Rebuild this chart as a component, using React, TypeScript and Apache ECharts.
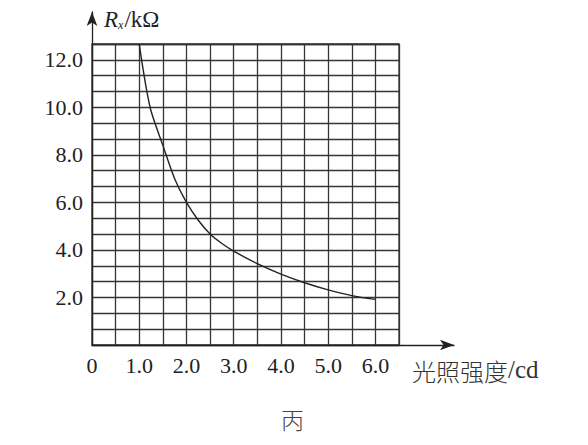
import React, { useEffect, useRef } from "react";
import * as echarts from "echarts";

const intensity = [1.0, 1.05, 1.15, 1.25, 1.5, 1.75, 2.0, 2.25, 2.5, 2.75, 3.0, 3.5, 4.0, 4.5, 5.0, 5.5, 6.0];
const resistance = [12.67, 12.0, 10.8, 9.85, 8.4, 7.0, 6.0, 5.25, 4.67, 4.27, 3.95, 3.42, 2.98, 2.62, 2.32, 2.08, 1.92];

const xMax = 6.5;
const xStep = 0.5;
const yMax = 38 / 3;
const yStep = 2 / 3;
const yLabelStep = 2;

const caption = "丙";

const SERIF = "'Liberation Serif', 'DejaVu Serif', serif";
const CJK = "'Noto Sans CJK SC', sans-serif";

export default function App() {
  const ref = useRef<HTMLDivElement>(null);
  useEffect(() => {
    if (!ref.current) return;
    const chart = echarts.init(ref.current, undefined, { renderer: "svg" });
    const lineColor = "#353535";
    chart.setOption({
      animation: false,
      backgroundColor: "#ffffff",
      grid: [
        { left: 92, top: 44, width: 307, height: 301, show: true, borderColor: lineColor, borderWidth: 1.3, backgroundColor: "transparent" },
        { left: 92, top: 12, width: 362, height: 333 },
      ],
      xAxis: [
        {
          type: "value", gridIndex: 0, min: 0, max: xMax, interval: xStep,
          axisLine: { show: false }, axisTick: { show: false },
          splitLine: { show: true, lineStyle: { color: lineColor, width: 1.3 } },
          axisLabel: {
            margin: 9, color: "#222", fontFamily: SERIF, fontSize: 22,
            formatter: (v: number) => (v === 0 ? "0" : Number.isInteger(v) && v <= 6 ? v.toFixed(1) : ""),
          },
        },
        {
          type: "value", gridIndex: 1, min: 0, max: 1,
          axisLine: { show: true, symbol: ["none", "arrow"], symbolSize: [8, 14], lineStyle: { color: "#222", width: 1.3 } },
          axisTick: { show: false }, axisLabel: { show: false }, splitLine: { show: false },
        },
      ],
      yAxis: [
        {
          type: "value", gridIndex: 0, min: 0, max: yMax, interval: yStep,
          axisLine: { show: false }, axisTick: { show: false },
          splitLine: { show: true, lineStyle: { color: lineColor, width: 1.3 } },
          axisLabel: {
            margin: 9, color: "#222", fontFamily: SERIF, fontSize: 22,
            formatter: (v: number) => {
              const k = v / yLabelStep;
              return v > 0.01 && Math.abs(k - Math.round(k)) < 1e-6 ? v.toFixed(1) : "";
            },
          },
        },
        {
          type: "value", gridIndex: 1, min: 0, max: 1,
          axisLine: { show: true, symbol: ["none", "arrow"], symbolSize: [8, 14], lineStyle: { color: "#222", width: 1.3 } },
          axisTick: { show: false }, axisLabel: { show: false }, splitLine: { show: false },
        },
      ],
      series: [
        {
          type: "line", xAxisIndex: 0, yAxisIndex: 0,
          data: intensity.map((x, i) => [x, resistance[i]]),
          showSymbol: false, smooth: 0.3, clip: false,
          lineStyle: { color: "#222", width: 1.4 },
        },
      ],
      graphic: [
        {
          type: "text", left: 104, top: 8,
          style: {
            text: "{r|R}{s|x}{n|/kΩ}",
            rich: {
              r: { fontFamily: SERIF, fontStyle: "italic", fontSize: 23, fill: "#222", verticalAlign: "bottom", lineHeight: 26 },
              s: { fontFamily: SERIF, fontStyle: "italic", fontSize: 12, fill: "#222", verticalAlign: "bottom", lineHeight: 21, padding: [0, 1, 0, 0] },
              n: { fontFamily: SERIF, fontSize: 23, fill: "#222", verticalAlign: "bottom", lineHeight: 26 },
            },
          },
        },
        {
          type: "text", left: 412, top: 357,
          style: {
            text: "{c|光照强度}{n|/cd}",
            rich: {
              c: { fontFamily: CJK, fontWeight: 300, fontSize: 24, fill: "#333", lineHeight: 27, verticalAlign: "bottom" },
              n: { fontFamily: SERIF, fontSize: 25, fill: "#333", lineHeight: 27, verticalAlign: "bottom" },
            },
          },
        },
        {
          type: "text", left: 281, top: 407,
          style: { text: caption, fontFamily: CJK, fontWeight: 300, fontSize: 23, fill: "#444" },
        },
      ],
    });
    return () => chart.dispose();
  }, []);
  return <div ref={ref} style={{ position: "absolute", left: 0, top: 0, width: 588, height: 445 }} />;
}
